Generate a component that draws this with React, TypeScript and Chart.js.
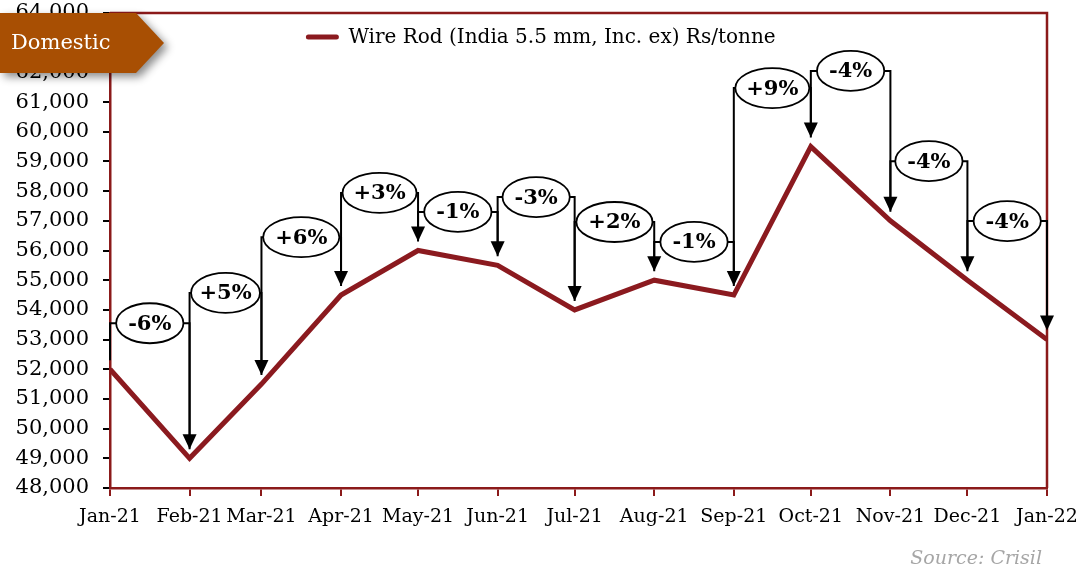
import React, { useEffect, useRef } from 'react';
import { Chart, registerables } from 'chart.js';

Chart.register(...registerables);

// ---- data ----
const dates = [
  '2021-01-01', '2021-02-01', '2021-03-01', '2021-04-01', '2021-05-01', '2021-06-01', '2021-07-01',
  '2021-08-01', '2021-09-01', '2021-10-01', '2021-11-01', '2021-12-01', '2022-01-01',
];
const tickLabels = [
  'Jan-21', 'Feb-21', 'Mar-21', 'Apr-21', 'May-21', 'Jun-21', 'Jul-21',
  'Aug-21', 'Sep-21', 'Oct-21', 'Nov-21', 'Dec-21', 'Jan-22',
];
const prices = [52000, 49000, 51500, 54500, 56000, 55500, 54000, 55000, 54500, 59500, 57000, 55000, 53000];
const changeLabels = ['-6%', '+5%', '+6%', '+3%', '-1%', '-3%', '+2%', '-1%', '+9%', '-4%', '-4%', '-4%'];
// level (Rs/tonne) at which each month-on-month callout sits
const calloutLevels = [53550, 54570, 56450, 57940, 57300, 57800, 56960, 56290, 61470, 62050, 59010, 56990];
const seriesLabel = 'Wire Rod (India 5.5 mm, Inc. ex) Rs/tonne';
const badgeText = 'Domestic';
const sourceText = 'Source: Crisil';
const yMin = 48000;
const yMax = 64000;
const yStep = 1000;

// ---- styles ----
const FONT = "'DejaVu Serif', 'Liberation Serif', serif";
const LINE_COLOR = '#8B1A1F';
const FRAME_COLOR = '#8B1A1A';
const BADGE_COLOR = '#A84F03';

const dayOf = (s: string) => {
  const [y, m, d] = s.split('-').map(Number);
  return (Date.UTC(y, m - 1, d) - Date.UTC(2021, 0, 1)) / 86400000;
};
const dayVals = dates.map(dayOf);

const overlayPlugin = {
  id: 'overlay',
  afterDatasetsDraw(chart: any) {
    const { ctx, chartArea, scales } = chart;
    const xs = scales.x;
    const ys = scales.y;
    const { left, right, top, bottom } = chartArea;

    // frame top/right
    ctx.save();
    ctx.strokeStyle = FRAME_COLOR;
    ctx.lineWidth = 2.5;
    ctx.beginPath();
    ctx.moveTo(left, top);
    ctx.lineTo(right, top);
    ctx.lineTo(right, bottom);
    ctx.stroke();
    ctx.restore();

    // callouts
    const gap = 9;
    const headH = 15;
    const headW = 7;
    ctx.save();
    ctx.strokeStyle = '#000';
    ctx.fillStyle = '#000';
    ctx.lineWidth = 2;
    for (let i = 0; i < changeLabels.length; i++) {
      const x1 = xs.getPixelForValue(dayVals[i]);
      const x2 = xs.getPixelForValue(dayVals[i + 1]);
      const yl = ys.getPixelForValue(calloutLevels[i]);
      const y1 = ys.getPixelForValue(prices[i]) - gap;
      const y2 = ys.getPixelForValue(prices[i + 1]) - gap;
      ctx.beginPath();
      ctx.moveTo(x1, y1);
      ctx.lineTo(x1, yl);
      ctx.lineTo(x2, yl);
      ctx.lineTo(x2, y2 - headH + 1);
      ctx.stroke();
      ctx.beginPath();
      ctx.moveTo(x2 - headW, y2 - headH);
      ctx.lineTo(x2 + headW, y2 - headH);
      ctx.lineTo(x2, y2);
      ctx.closePath();
      ctx.fill();
    }
    ctx.font = `bold 21px ${FONT}`;
    ctx.textAlign = 'center';
    ctx.textBaseline = 'middle';
    for (let i = 0; i < changeLabels.length; i++) {
      const x1 = xs.getPixelForValue(dayVals[i]);
      const x2 = xs.getPixelForValue(dayVals[i + 1]);
      const yl = ys.getPixelForValue(calloutLevels[i]);
      const cx = (x1 + x2) / 2;
      const tw = ctx.measureText(changeLabels[i]).width;
      const rx = Math.min((x2 - x1) / 2 - 1.5, tw / 2 + 12);
      const ry = 20;
      ctx.beginPath();
      ctx.ellipse(cx, yl, rx, ry, 0, 0, Math.PI * 2);
      ctx.fillStyle = '#fff';
      ctx.fill();
      ctx.lineWidth = 1.8;
      ctx.strokeStyle = '#000';
      ctx.stroke();
      ctx.fillStyle = '#000';
      ctx.fillText(changeLabels[i], cx, yl + 1);
    }
    ctx.restore();

    // legend
    ctx.save();
    ctx.font = `20px ${FONT}`;
    const tw = ctx.measureText(seriesLabel).width;
    const total = 28 + 12 + tw;
    const lx = 542 - total / 2;
    const ly = 37;
    ctx.strokeStyle = LINE_COLOR;
    ctx.lineWidth = 5;
    ctx.lineCap = 'round';
    ctx.beginPath();
    ctx.moveTo(lx, ly);
    ctx.lineTo(lx + 28, ly);
    ctx.stroke();
    ctx.fillStyle = '#000';
    ctx.textAlign = 'left';
    ctx.textBaseline = 'middle';
    ctx.fillText(seriesLabel, lx + 40, ly + 1);
    ctx.restore();

    // badge
    ctx.save();
    ctx.shadowColor = 'rgba(0,0,0,0.45)';
    ctx.shadowBlur = 8;
    ctx.shadowOffsetX = 4;
    ctx.shadowOffsetY = 4;
    ctx.fillStyle = BADGE_COLOR;
    ctx.beginPath();
    ctx.moveTo(0, 13);
    ctx.lineTo(136, 13);
    ctx.lineTo(164, 43);
    ctx.lineTo(136, 73);
    ctx.lineTo(0, 73);
    ctx.closePath();
    ctx.fill();
    ctx.restore();
    ctx.save();
    ctx.fillStyle = '#fff';
    ctx.font = `21px ${FONT}`;
    ctx.textAlign = 'left';
    ctx.textBaseline = 'middle';
    ctx.fillText(badgeText, 11, 44);
    ctx.restore();

    // source
    ctx.save();
    ctx.fillStyle = '#a6a6a6';
    ctx.font = `italic 19px ${FONT}`;
    ctx.textAlign = 'right';
    ctx.textBaseline = 'alphabetic';
    ctx.fillText(sourceText, 1042, 564);
    ctx.restore();
  },
};

const zeroPad = (s: any) => {
  s.paddingTop = 0;
  s.paddingBottom = 0;
  s.paddingLeft = 0;
  s.paddingRight = 0;
};

export default function App() {
  const ref = useRef<HTMLCanvasElement | null>(null);
  useEffect(() => {
    document.body.style.margin = '0';
    if (!ref.current) return;
    const chart = new Chart(ref.current, {
      type: 'line',
      data: {
        datasets: [
          {
            label: seriesLabel,
            data: dates.map((d, i) => ({ x: dayOf(d), y: prices[i] })),
            borderColor: LINE_COLOR,
            backgroundColor: LINE_COLOR,
            borderWidth: 5,
            pointRadius: 0,
            tension: 0,
            fill: false,
          },
        ],
      },
      options: {
        responsive: false,
        animation: false,
        layout: { padding: { top: 13, right: 33, left: 0, bottom: 0 } },
        plugins: { legend: { display: false }, tooltip: { enabled: false } },
        scales: {
          x: {
            type: 'linear',
            min: dayVals[0],
            max: dayVals[dayVals.length - 1],
            afterBuildTicks: (s: any) => {
              s.ticks = dayVals.map((v) => ({ value: v }));
            },
            afterFit: (s: any) => {
              s.height = 81;
              zeroPad(s);
            },
            ticks: {
              autoSkip: false,
              maxRotation: 0,
              color: '#000',
              font: { family: FONT, size: 19 },
              padding: 10,
              callback: (v: any) => tickLabels[dayVals.indexOf(Number(v))] ?? '',
            },
            grid: { display: true, drawOnChartArea: false, drawTicks: true, tickLength: 8, color: FRAME_COLOR, lineWidth: 2 },
            border: { display: true, color: FRAME_COLOR, width: 2.5 },
          },
          y: {
            min: yMin,
            max: yMax,
            afterFit: (s: any) => {
              s.width = 110;
              zeroPad(s);
            },
            ticks: {
              stepSize: yStep,
              color: '#000',
              font: { family: FONT, size: 21 },
              padding: 14,
              callback: (v: any) => Number(v).toLocaleString('en-US'),
            },
            grid: { display: true, drawOnChartArea: false, drawTicks: true, tickLength: 7, color: '#000', lineWidth: 2 },
            border: { display: true, color: FRAME_COLOR, width: 2.5 },
          },
        },
      },
      plugins: [overlayPlugin],
    } as any);
    return () => chart.destroy();
  }, []);
  return (
    <div style={{ position: 'absolute', left: 0, top: 0, width: 1080, height: 569, background: '#fff' }}>
      <canvas ref={ref} width={1080} height={569} style={{ display: 'block', width: 1080, height: 569 }} />
    </div>
  );
}
